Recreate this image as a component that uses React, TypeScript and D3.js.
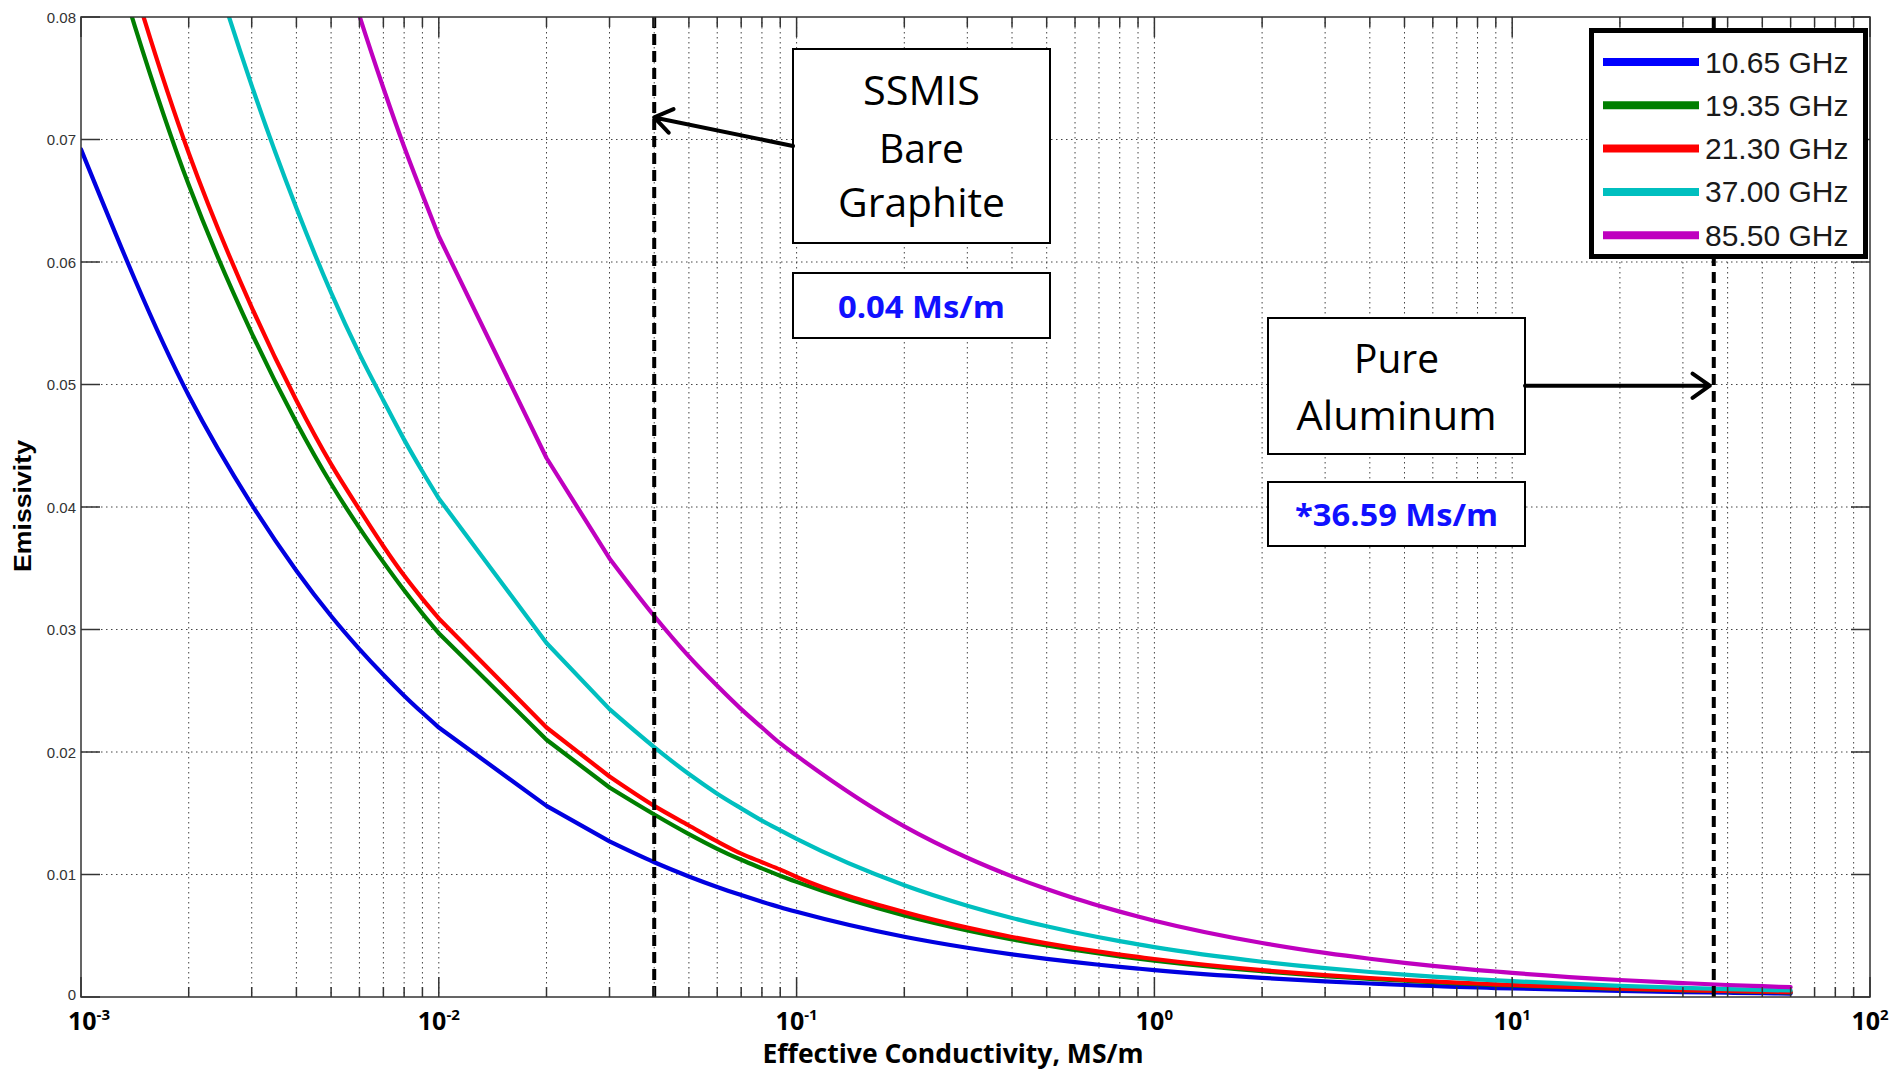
import React from "react";
import * as d3 from "d3";

// Effective conductivity (MS/m) sample points
const SIGMA = [
  0.001, 0.002, 0.003, 0.004, 0.005, 0.006, 0.007, 0.008, 0.009,
  0.01, 0.02, 0.03, 0.04, 0.05, 0.06, 0.07, 0.08, 0.09,
  0.1, 0.2, 0.3, 0.4, 0.5, 0.6, 0.7, 0.8, 0.9,
  1, 2, 3, 4, 5, 6, 7, 8, 9,
  10, 20, 30, 40, 50, 60,
];

const E_1065 = [
  0.0692, 0.0491, 0.0402, 0.0348, 0.0311, 0.0284, 0.0263, 0.0246, 0.0232,
  0.0220, 0.0156, 0.0127, 0.0110, 0.00984, 0.00898, 0.00832, 0.00778, 0.00733,
  0.00696, 0.00492, 0.00402, 0.00348, 0.00311, 0.00284, 0.00263, 0.00246, 0.00232,
  0.00220, 0.00156, 0.00127, 0.00110, 0.00098, 0.00090, 0.00083, 0.00078, 0.00073,
  0.00070, 0.00049, 0.00040, 0.00035, 0.00031, 0.00028,
];
const E_1935 = [
  0.0938, 0.0663, 0.0542, 0.0469, 0.0419, 0.0383, 0.0355, 0.0332, 0.0313,
  0.0297, 0.0210, 0.0171, 0.0149, 0.0133, 0.0121, 0.0112, 0.0105, 0.0099,
  0.0094, 0.00665, 0.00543, 0.0047, 0.0042, 0.00384, 0.00355, 0.00332, 0.00313,
  0.00297, 0.0021, 0.00171, 0.00148, 0.00133, 0.00121, 0.00112, 0.00105, 0.00099,
  0.00094, 0.00066, 0.00054, 0.00047, 0.00042, 0.00038,
];
const E_2130 = [
  0.0974, 0.0689, 0.0563, 0.0487, 0.0435, 0.0398, 0.0368, 0.0344, 0.0325,
  0.0309, 0.0220, 0.0180, 0.0156, 0.0140, 0.0127, 0.0117, 0.0110, 0.0104,
  0.0098, 0.00693, 0.00566, 0.0049, 0.00438, 0.0040, 0.0037, 0.00346, 0.00327,
  0.0031, 0.00219, 0.00179, 0.00155, 0.00139, 0.00127, 0.00117, 0.0011, 0.00103,
  0.00098, 0.00069, 0.00056, 0.00049, 0.00044, 0.00040,
];
const E_3700 = [
  0.1288, 0.0910, 0.0744, 0.0644, 0.0575, 0.0525, 0.0487, 0.0455, 0.0429,
  0.0407, 0.0289, 0.0235, 0.0204, 0.0182, 0.0166, 0.0154, 0.0144, 0.0136,
  0.0129, 0.00912, 0.00745, 0.00645, 0.00577, 0.00527, 0.00488, 0.00456, 0.0043,
  0.00407, 0.00288, 0.00235, 0.00204, 0.00182, 0.00166, 0.00154, 0.00144, 0.00136,
  0.00129, 0.00091, 0.00074, 0.00064, 0.00058, 0.00053,
];
const E_8550 = [
  0.196, 0.1387, 0.1133, 0.0981, 0.0877, 0.0801, 0.0742, 0.0694, 0.0655,
  0.0621, 0.0440, 0.0358, 0.0311, 0.0278, 0.0254, 0.0235, 0.0220, 0.0207,
  0.0197, 0.01393, 0.01137, 0.00985, 0.00881, 0.00804, 0.00745, 0.00697, 0.00657,
  0.00623, 0.00441, 0.0036, 0.00312, 0.00279, 0.00254, 0.00235, 0.0022, 0.00208,
  0.00197, 0.00139, 0.00114, 0.00098, 0.00088, 0.00080,
];

const SERIES_NAMES = ["10.65 GHz", "19.35 GHz", "21.30 GHz", "37.00 GHz", "85.50 GHz"];
const SERIES_VALUES = [E_1065, E_1935, E_2130, E_3700, E_8550];
const SERIES_COLORS = ["#0000e0", "#007f00", "#ff0000", "#00bfbf", "#bf00bf"];
const LEGEND_COLORS = ["#0000ff", "#007f00", "#ff0000", "#00bfbf", "#bf00bf"];

const Y_TICKS = [0, 0.01, 0.02, 0.03, 0.04, 0.05, 0.06, 0.07, 0.08];
const Y_TICK_LABELS = ["0", "0.01", "0.02", "0.03", "0.04", "0.05", "0.06", "0.07", "0.08"];
const X_DECADES = [-3, -2, -1, 0, 1, 2];

const MARKER_GRAPHITE = 0.04;
const MARKER_ALUMINUM = 36.59;

const W = 1899;
const H = 1073;
const L = 81;
const R = 1870;
const T = 17;
const B = 997;

function Arrow({ x1, y1, x2, y2 }: { x1: number; y1: number; x2: number; y2: number }) {
  const ang = Math.atan2(y2 - y1, x2 - x1);
  const len = 21;
  const spread = (35 * Math.PI) / 180;
  const a1 = ang + Math.PI - spread;
  const a2 = ang + Math.PI + spread;
  const p = `M${x1},${y1}L${x2},${y2}M${x2 + len * Math.cos(a1)},${y2 + len * Math.sin(a1)}L${x2},${y2}L${x2 + len * Math.cos(a2)},${y2 + len * Math.sin(a2)}`;
  return <path d={p} fill="none" stroke="#000" strokeWidth={4} strokeLinecap="round" strokeLinejoin="round" />;
}

export default function App() {
  const x = d3.scaleLog().domain([1e-3, 1e2]).range([L, R]);
  const y = d3.scaleLinear().domain([0, 0.08]).range([B, T]);

  const minorX: { v: number; major: boolean }[] = [];
  for (let k = -3; k <= 2; k++) {
    for (let m = 1; m <= 9; m++) {
      const v = m * Math.pow(10, k);
      if (v > 100.0001) break;
      minorX.push({ v, major: m === 1 });
    }
  }

  const smooth = d3.line<[number, number]>().curve(d3.curveMonotoneX);
  const straight = d3.line<[number, number]>();

  const seriesPath = (vals: number[]) => {
    const pts = SIGMA.map((s, i) => ({ s, p: [x(s), y(vals[i])] as [number, number] }));
    const a = pts.filter((d) => d.s <= 0.0100001).map((d) => d.p);
    const b = pts.filter((d) => d.s >= 0.0099999 && d.s <= 0.0300001).map((d) => d.p);
    const c = pts.filter((d) => d.s >= 0.0299999).map((d) => d.p);
    return (smooth(a) || "") + (straight(b) || "") + (smooth(c) || "");
  };

  const sans = "'Liberation Sans', Arial, sans-serif";
  const calib = "'Open Sans', 'Noto Sans', sans-serif";

  const xG = x(MARKER_GRAPHITE);
  const xA = x(MARKER_ALUMINUM);

  return (
    <svg
      width={W}
      height={H}
      style={{ position: "absolute", left: 0, top: 0, background: "#fff" }}
      xmlns="http://www.w3.org/2000/svg"
    >
      <rect x={0} y={0} width={W} height={H} fill="#fff" />
      <defs>
        <clipPath id="plotclip">
          <rect x={L} y={T} width={R - L} height={B - T} />
        </clipPath>
      </defs>

      {/* grid */}
      <g stroke="#444" strokeWidth={1} strokeDasharray="1.5,3.5">
        {minorX
          .filter((t) => t.v > 1e-3 * 1.0001 && t.v < 99.99)
          .map((t, i) => (
            <line key={"gx" + i} x1={x(t.v)} x2={x(t.v)} y1={T} y2={B} />
          ))}
        {Y_TICKS.filter((v) => v > 0 && v < 0.08).map((v, i) => (
          <line key={"gy" + i} x1={L} x2={R} y1={y(v)} y2={y(v)} />
        ))}
      </g>

      {/* curves */}
      <g clipPath="url(#plotclip)">
        {SERIES_VALUES.map((vals, si) => (
          <path
            key={"s" + si}
            d={seriesPath(vals)}
            fill="none"
            stroke={SERIES_COLORS[si]}
            strokeWidth={4.2}
            strokeLinejoin="round"
            strokeLinecap="round"
          />
        ))}
      </g>

      {/* marker lines */}
      <g stroke="#000" strokeWidth={4} strokeDasharray="11,6">
        <line x1={xG} x2={xG} y1={T} y2={B} />
        <line x1={xA} x2={xA} y1={T} y2={B} />
      </g>

      {/* frame and ticks */}
      <rect x={L} y={T} width={R - L} height={B - T} fill="none" stroke="#333" strokeWidth={1.5} />
      <g stroke="#333" strokeWidth={1.5}>
        {minorX.map((t, i) => {
          const len = t.major ? 20 : 10;
          const xv = x(t.v);
          return (
            <g key={"tx" + i}>
              <line x1={xv} x2={xv} y1={B} y2={B - len} />
              <line x1={xv} x2={xv} y1={T} y2={T + len} />
            </g>
          );
        })}
        {Y_TICKS.map((v, i) => (
          <g key={"ty" + i}>
            <line x1={L} x2={L + 19} y1={y(v)} y2={y(v)} />
            <line x1={R} x2={R - 19} y1={y(v)} y2={y(v)} />
          </g>
        ))}
      </g>

      {/* y tick labels */}
      <g fontFamily={sans} fontSize={15} fill="#333" textAnchor="end">
        {Y_TICKS.map((v, i) => (
          <text key={"yl" + i} x={76} y={i === 0 ? y(v) - 3 : y(v)} dominantBaseline="central">
            {Y_TICK_LABELS[i]}
          </text>
        ))}
      </g>

      {/* x tick labels */}
      <g fontFamily={calib} fontWeight="bold" fill="#000">
        {X_DECADES.map((k, i) => (
          <text
            key={"xl" + i}
            x={x(Math.pow(10, k)) + (i === 0 ? 8 : 0)}
            y={1030}
            fontSize={25}
            textAnchor="middle"
          >
            10
            <tspan fontSize={15} dy={-10}>
              {String(k)}
            </tspan>
          </text>
        ))}
      </g>

      {/* axis titles */}
      <text
        x={953}
        y={1063}
        fontFamily={calib}
        fontWeight="bold"
        fontSize={27}
        textAnchor="middle"
        textLength={381}
        lengthAdjust="spacingAndGlyphs"
      >
        Effective Conductivity, MS/m
      </text>
      <text
        transform="translate(31,506) rotate(-90)"
        fontFamily={sans}
        fontWeight="bold"
        fontSize={23}
        textAnchor="middle"
        textLength={132}
        lengthAdjust="spacingAndGlyphs"
      >
        Emissivity
      </text>

      {/* annotation: SSMIS Bare Graphite */}
      <rect x={793} y={49} width={257} height={194} fill="#fff" stroke="#000" strokeWidth={2} />
      <g fontFamily={calib} fontSize={41} textAnchor="middle" fill="#000">
        <text x={921.5} y={105} textLength={117} lengthAdjust="spacingAndGlyphs">SSMIS</text>
        <text x={921.5} y={163} textLength={85} lengthAdjust="spacingAndGlyphs">Bare</text>
        <text x={921.5} y={217} textLength={167} lengthAdjust="spacingAndGlyphs">Graphite</text>
      </g>
      <rect x={793} y={273} width={257} height={65} fill="#fff" stroke="#000" strokeWidth={2} />
      <text
        x={921.5}
        y={318}
        fontFamily={calib}
        fontWeight="bold"
        fontSize={30}
        fill="#1010ff"
        textAnchor="middle"
        textLength={167}
        lengthAdjust="spacingAndGlyphs"
      >
        0.04 Ms/m
      </text>
      <Arrow x1={793} y1={146} x2={xG} y2={y(0.0718)} />

      {/* annotation: Pure Aluminum */}
      <rect x={1268} y={318} width={257} height={136} fill="#fff" stroke="#000" strokeWidth={2} />
      <g fontFamily={calib} fontSize={41} textAnchor="middle" fill="#000">
        <text x={1396.5} y={373} textLength={85} lengthAdjust="spacingAndGlyphs">Pure</text>
        <text x={1396.5} y={430} textLength={200} lengthAdjust="spacingAndGlyphs">Aluminum</text>
      </g>
      <rect x={1268} y={482} width={257} height={64} fill="#fff" stroke="#000" strokeWidth={2} />
      <text
        x={1396.5}
        y={526}
        fontFamily={calib}
        fontWeight="bold"
        fontSize={30}
        fill="#1010ff"
        textAnchor="middle"
        textLength={203}
        lengthAdjust="spacingAndGlyphs"
      >
        *36.59 Ms/m
      </text>
      <Arrow x1={1525} y1={y(0.0499)} x2={xA - 4} y2={y(0.0499)} />

      {/* legend */}
      <rect x={1591.5} y={30.5} width={274} height={226} fill="#fff" stroke="#000" strokeWidth={5} />
      {SERIES_NAMES.map((name, i) => {
        const ly = 62 + i * 43.3;
        return (
          <g key={"lg" + i}>
            <line x1={1603} x2={1699} y1={ly} y2={ly} stroke={LEGEND_COLORS[i]} strokeWidth={8} />
            <text x={1705} y={ly} dominantBaseline="central" fontFamily={sans} fontSize={30} fill="#1a1a1a">
              {name}
            </text>
          </g>
        );
      })}
    </svg>
  );
}
